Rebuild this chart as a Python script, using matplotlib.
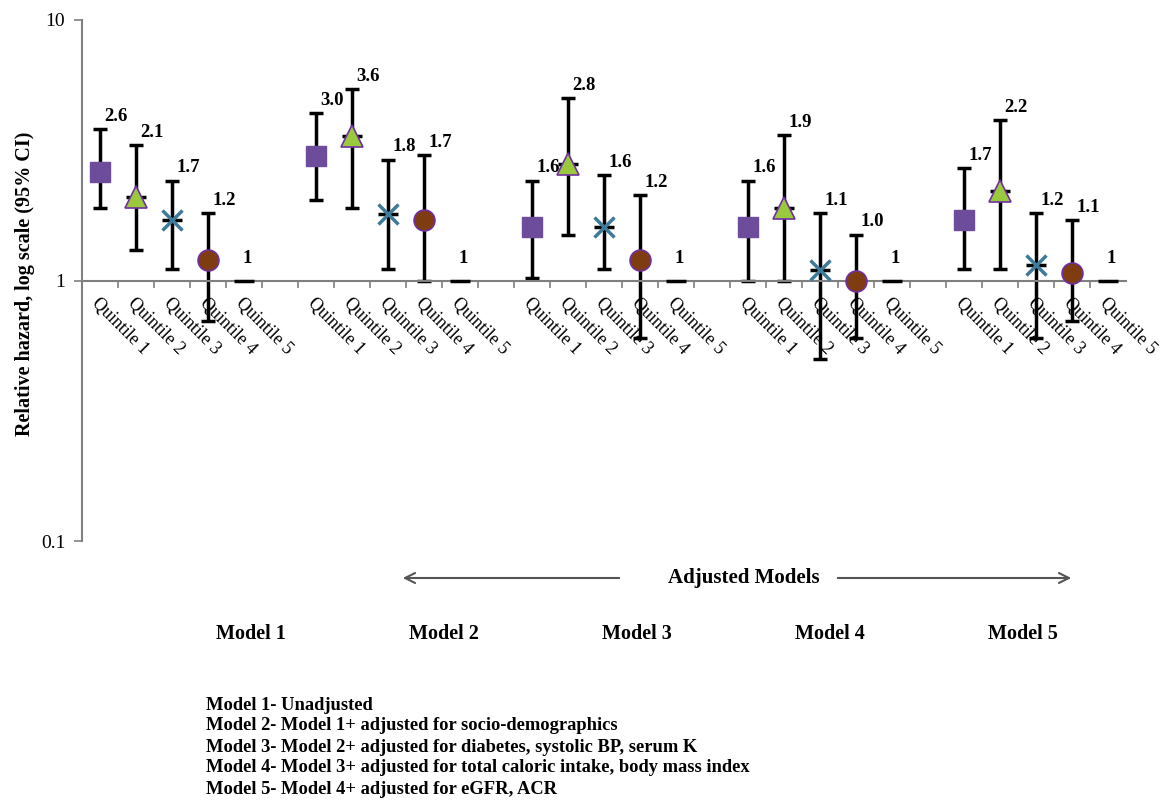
import matplotlib
matplotlib.use('Agg')
import matplotlib.pyplot as plt
import numpy as np

plt.rcParams['font.family'] = ['Liberation Serif', 'DejaVu Serif']

models = ['Model 1', 'Model 2', 'Model 3', 'Model 4', 'Model 5']
quintiles = ['Quintile 1', 'Quintile 2', 'Quintile 3', 'Quintile 4', 'Quintile 5']

# hazard ratio, lower / upper 95% CI, per quintile across the 5 models
q1_hr = [2.6, 3.0, 1.6, 1.6, 1.7]
q1_lo = [1.9, 2.03, 1.02, 1.0, 1.11]
q1_hi = [3.82, 4.4, 2.42, 2.42, 2.71]
q1_lab = ['2.6', '3.0', '1.6', '1.6', '1.7']

q2_hr = [2.1, 3.6, 2.8, 1.9, 2.2]
q2_lo = [1.31, 1.9, 1.5, 1.0, 1.11]
q2_hi = [3.32, 5.44, 5.02, 3.62, 4.14]
q2_lab = ['2.1', '3.6', '2.8', '1.9', '2.2']

q3_hr = [1.7, 1.8, 1.6, 1.1, 1.15]
q3_lo = [1.11, 1.11, 1.11, 0.5, 0.6]
q3_hi = [2.42, 2.91, 2.53, 1.81, 1.81]
q3_lab = ['1.7', '1.8', '1.6', '1.1', '1.2']

q4_hr = [1.2, 1.7, 1.2, 1.0, 1.07]
q4_lo = [0.7, 1.0, 0.6, 0.6, 0.7]
q4_hi = [1.81, 3.04, 2.12, 1.5, 1.71]
q4_lab = ['1.2', '1.7', '1.2', '1.0', '1.1']

q5_hr = [1, 1, 1, 1, 1]
q5_lab = ['1', '1', '1', '1', '1']

notes = ['Model 1- Unadjusted',
         'Model 2- Model 1+ adjusted for socio-demographics',
         'Model 3- Model 2+ adjusted for diabetes, systolic BP, serum K',
         'Model 4- Model 3+ adjusted for total caloric intake, body mass index',
         'Model 5- Model 4+ adjusted for eGFR, ACR']

fig = plt.figure(figsize=(11.75, 8.06), dpi=100)
ax = fig.add_axes([82/1175, 1 - 541/806, (1126 - 82)/1175, (541 - 20)/806])

gray = '#808080'
series = [
    (q1_hr, q1_lo, q1_hi, q1_lab, dict(marker='s', ms=14.5, mfc='#6E4C9C', mec='#6E4C9C')),
    (q2_hr, q2_lo, q2_hi, q2_lab, dict(marker='^', ms=15.5, mfc='#9BC93E', mec='#7030A0', mew=1.2)),
    (q3_hr, q3_lo, q3_hi, q3_lab, dict(marker='x', ms=14.5, mfc='#3E7A99', mec='#3E7A99', mew=2.5)),
    (q4_hr, q4_lo, q4_hi, q4_lab, dict(marker='o', ms=15, mfc='#7F3C10', mec='#7030A0', mew=1.2)),
]

for q, (hr, lo, hi, lab, style) in enumerate(series):
    x = np.arange(len(models)) * 6 + q
    hr = np.array(hr)
    err = [hr - np.array(lo), np.array(hi) - hr]
    ax.errorbar(x, hr, yerr=err, fmt='none', ecolor='black', elinewidth=2.5,
                capsize=5, capthick=2.5, zorder=2)
    ax.plot(x, hr, ls='none', marker='_', ms=15, mew=2.5, color='black', zorder=3)
    ax.plot(x, hr, ls='none', zorder=4, **style)
    for xi, yi, t in zip(x, hi, lab):
        ax.annotate(t, (xi, yi), xytext=(3, 3), textcoords='offset points',
                    ha='left', va='bottom', fontsize=13.5, fontweight='bold')

# quintile 5 is the reference
x5 = np.arange(len(models)) * 6 + 4
ax.plot(x5, q5_hr, ls='none', marker='_', ms=15, mew=2.5, color='black', zorder=3)
for xi, yi, t in zip(x5, q5_hr, q5_lab):
    ax.annotate(t, (xi, yi), xytext=(2, 10), textcoords='offset points',
                ha='center', va='bottom', fontsize=13.5, fontweight='bold')

ax.set_yscale('log')
ax.set_ylim(0.1, 10)
ax.set_xlim(-0.5, 28.5)
ax.set_yticks([0.1, 1, 10])
ax.set_yticklabels(['0.1', '1', '10'])
ax.yaxis.set_minor_locator(matplotlib.ticker.NullLocator())

# category axis crosses at 1
ax.spines['bottom'].set_position(('data', 1))
ax.spines['top'].set_visible(False)
ax.spines['right'].set_visible(False)
for s in ['bottom', 'left']:
    ax.spines[s].set_color(gray)
    ax.spines[s].set_linewidth(1.5)

pos = [m * 6 + q for m in range(len(models)) for q in range(len(quintiles))]
ax.set_xticks(pos)
ax.set_xticklabels(quintiles * len(models), rotation=-45, ha='left', va='top',
                   rotation_mode='anchor', fontsize=13)
ax.tick_params(axis='x', which='major', length=0, pad=10)
ax.set_xticks(np.arange(0.5, 28.5, 1), minor=True)
ax.tick_params(axis='x', which='minor', length=5, width=1.2, color=gray, direction='out')
ax.tick_params(axis='y', length=6, width=1.2, color=gray, labelsize=14, pad=6)

fig.text(25/1175, 1 - 284/806, 'Relative hazard, log scale (95% CI)', rotation=90,
         ha='center', va='center', fontsize=14.5, fontweight='bold')

# adjusted models arrow
fig.text(744/1175, 1 - 578/806, 'Adjusted Models', ha='center', va='center',
         fontsize=15, fontweight='bold')
fig.add_artist(matplotlib.patches.FancyArrowPatch((622/1175, 1 - 578/806), (400/1175, 1 - 578/806),
               transform=fig.transFigure, arrowstyle='->', mutation_scale=18, color='#555555', lw=1.5))
fig.add_artist(matplotlib.patches.FancyArrowPatch((835/1175, 1 - 578/806), (1074/1175, 1 - 578/806),
               transform=fig.transFigure, arrowstyle='->', mutation_scale=18, color='#555555', lw=1.5))

for i, m in enumerate(models):
    fig.text((251 + i * 193) / 1175, 1 - 634/806, m, ha='center', va='center',
             fontsize=14.5, fontweight='bold')

for i, n in enumerate(notes):
    fig.text(206/1175, 1 - (705 + i * 21) / 806, n, ha='left', va='center',
             fontsize=13.3, fontweight='bold')

fig.savefig('out.png', dpi=100)
